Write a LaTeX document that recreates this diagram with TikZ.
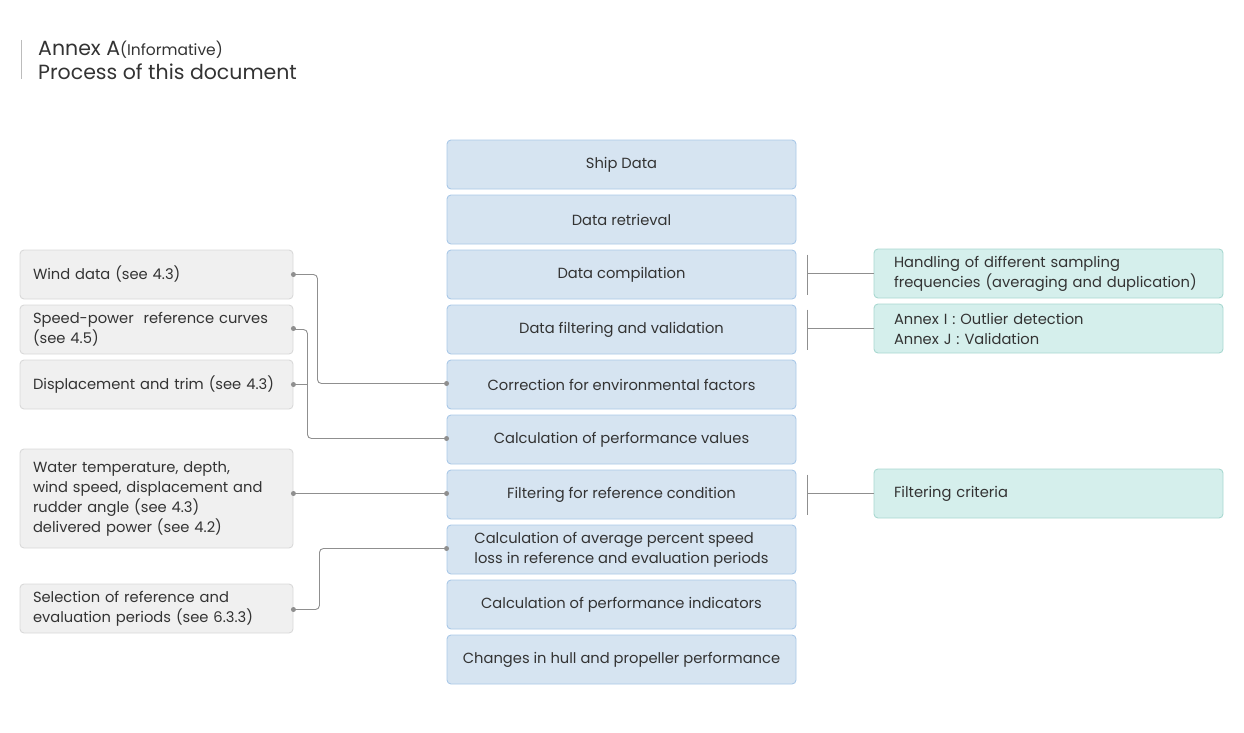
\documentclass[tikz,border=0pt]{standalone}
\usepackage{fontspec}
\setmainfont{Poppins}
\definecolor{cfill}{HTML}{D6E4F1}
\definecolor{cdraw}{HTML}{A9C8E8}
\definecolor{lfill}{HTML}{F0F0F0}
\definecolor{ldraw}{HTML}{D9D9D9}
\definecolor{rfill}{HTML}{D5EFEC}
\definecolor{rdraw}{HTML}{A8D8D0}
\definecolor{lin}{HTML}{8F8F8F}
\definecolor{txt}{HTML}{333333}
\begin{document}
\begin{tikzpicture}[x=1pt,y=-1pt,
  every node/.style={text=txt,font=\fontsize{14.7}{20}\selectfont},
  cbox/.style={draw=cdraw,fill=cfill,rounded corners=4pt,line width=0.9pt,minimum width=349pt,minimum height=49pt,align=center,inner sep=0pt},
  lbox/.style={draw=ldraw,fill=lfill,rounded corners=4pt,line width=0.9pt,minimum width=273pt,minimum height=49pt,text width=247pt,inner xsep=13pt,align=left},
  rbox/.style={draw=rdraw,fill=rfill,rounded corners=4pt,line width=0.9pt,minimum width=349pt,minimum height=49pt,text width=309pt,inner xsep=20pt,align=left},
  conn/.style={draw=lin,line width=0.9pt,rounded corners=4pt},
  dot/.style={fill=lin,circle,inner sep=0pt,minimum size=5pt}
]
\useasboundingbox (0,0) rectangle (1244,733);
% title
\draw[draw=lin!60,line width=1pt] (21,40) -- (21,79);
\node[anchor=base west,inner sep=0pt,font=\fontsize{20.5}{24}\selectfont] (t1) at (38,56) {Annex A{\fontsize{15.5}{18}\selectfont(Informative)}};
\node[anchor=base west,inner sep=0pt,font=\fontsize{20.5}{24}\selectfont] (t2) at (38,80) {Process of this document};
% center column
\node[cbox] (ship) at (621.5,164.5) {Ship Data};
\node[cbox] (retr) at (621.5,219.5) {Data retrieval};
\node[cbox] (comp) at (621.5,274.5) {Data compilation};
\node[cbox] (filt) at (621.5,329.5) {Data filtering and validation};
\node[cbox] (corr) at (621.5,384.5) {Correction for environmental factors};
\node[cbox] (calc) at (621.5,439.5) {Calculation of performance values};
\node[cbox] (fref) at (621.5,494.5) {Filtering for reference condition};
\node[cbox,align=left] (avg) at (621.5,549.5) {Calculation of average percent speed\\loss in reference and evaluation periods};
\node[cbox] (ind) at (621.5,604.5) {Calculation of performance indicators};
\node[cbox] (chg) at (621.5,659.5) {Changes in hull and propeller performance};
% left column
\node[lbox] (wind) at (156.5,274.5) {Wind data (see 4.3)};
\node[lbox] (sp) at (156.5,329.5) {Speed-power\ \ reference curves\\(see 4.5)};
\node[lbox] (disp) at (156.5,384.5) {Displacement and trim (see 4.3)};
\node[lbox,minimum height=99pt] (water) at (156.5,498.5) {Water temperature, depth,\\wind speed, displacement and\\rudder angle (see 4.3)\\delivered power (see 4.2)};
\node[lbox] (sel) at (156.5,608.5) {Selection of reference and\\evaluation periods (see 6.3.3)};
% right column
\node[rbox] (hand) at (1048.5,273.5) {Handling of different sampling\\frequencies (averaging and duplication)};
\node[rbox] (annex) at (1048.5,328.5) {Annex I : Outlier detection\\Annex J : Validation};
\node[rbox] (crit) at (1048.5,493.5) {Filtering criteria};
% left connectors
\draw[conn] (wind.east) -- ++(24,0) |- ([yshift=1pt]corr.west);
\draw[conn] (sp.east) -- ++(14,0) coordinate (spv) |- ([yshift=1pt]calc.west);
\draw[conn] (disp.east) -- (disp.east -| spv);
\draw[conn] ([yshift=1pt]water.east |- fref.west) -- ([yshift=1pt]fref.west);
\draw[conn] ([yshift=-1pt]sel.east) -- ++(26,0) |- ([yshift=1pt]avg.west);
\foreach \n in {wind,disp}{\node[dot] at (\n.east) {};}
\node[dot] at ([yshift=1pt]sp.east) {};
\node[dot] at ([yshift=-1pt]sel.east) {};
\node[dot] at ([yshift=1pt]water.east |- fref.west) {};
\foreach \n in {corr,calc,fref,avg}{\node[dot] at ([yshift=1pt]\n.west) {};}
% right connectors
\foreach \a/\b in {comp/hand,filt/annex,fref/crit}{
  \draw[conn] ([xshift=11pt,yshift=20pt]\a.east) -- ([xshift=11pt,yshift=-20pt]\a.east);
  \draw[conn] ([xshift=11pt,yshift=1pt]\a.east) -- ([yshift=1pt]\a.east -| \b.west);
}
\end{tikzpicture}
\end{document}
